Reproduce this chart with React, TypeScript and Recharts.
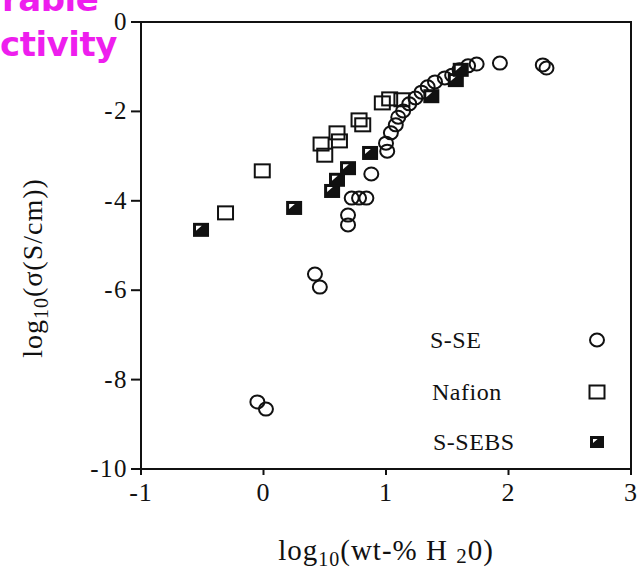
import React from 'react';
import { ScatterChart, Scatter, XAxis, YAxis, ReferenceArea, Legend } from 'recharts';

// log10(wt-% H2O) vs log10(conductivity)
const sseX = [-0.05, 0.02, 0.42, 0.46, 0.69, 0.69, 0.72, 0.78, 0.84, 0.88, 1.0, 1.01, 1.04, 1.08, 1.1, 1.14, 1.19, 1.24, 1.29, 1.34, 1.4, 1.48, 1.54, 1.6, 1.67, 1.74, 1.93, 2.28, 2.31];
const sseY = [-8.5, -8.66, -5.64, -5.93, -4.32, -4.54, -3.94, -3.94, -3.94, -3.4, -2.71, -2.89, -2.48, -2.3, -2.13, -1.99, -1.83, -1.7, -1.57, -1.45, -1.34, -1.25, -1.19, -1.07, -0.98, -0.94, -0.92, -0.96, -1.03];

const nafionX = [-0.31, -0.01, 0.47, 0.5, 0.6, 0.62, 0.78, 0.81, 0.97, 1.03, 1.13];
const nafionY = [-4.27, -3.33, -2.73, -2.98, -2.48, -2.66, -2.19, -2.3, -1.81, -1.72, -1.74];

const sebsX = [-0.51, 0.25, 0.56, 0.6, 0.69, 0.87, 1.37, 1.57, 1.61];
const sebsY = [-4.65, -4.16, -3.78, -3.53, -3.27, -2.93, -1.66, -1.3, -1.07];

const xTicks = [-1, 0, 1, 2, 3];
const yTicks = [0, -2, -4, -6, -8, -10];

const toPoints = (xs: number[], ys: number[]) => xs.map((x, i) => ({ x, y: ys[i] }));

const sseData = toPoints(sseX, sseY);
const nafionData = toPoints(nafionX, nafionY);
const sebsData = toPoints(sebsX, sebsY);

const serif = '"Liberation Serif", "Times New Roman", serif';
const ink = '#111';

const CircleMark = ({ cx, cy, r = 7 }: any) => (
  <ellipse cx={cx} cy={cy} rx={r} ry={r - 0.5} fill="none" stroke={ink} strokeWidth={2} />
);

const SquareMark = ({ cx, cy, s = 15 }: any) => (
  <rect x={cx - s / 2} y={cy - (s - 2) / 2} width={s} height={s - 2} fill="none" stroke={ink} strokeWidth={2} />
);

const HalfSquareMark = ({ cx, cy, s = 14 }: any) => {
  const x = cx - s / 2;
  const y = cy - (s - 2) / 2;
  return (
    <g>
      <rect x={x} y={y} width={s} height={s - 2} fill={ink} stroke={ink} strokeWidth={2} />
      <path d={`M${x + 2},${y + 2} L${x + s * 0.55},${y + 2} L${x + 2},${y + s * 0.5} Z`} fill="#fff" />
    </g>
  );
};

const XTick = ({ x, y, payload }: any) => (
  <text x={x} y={y + 22} textAnchor="middle" fontFamily={serif} fontSize={26} letterSpacing={1} fill={ink}>
    {payload.value}
  </text>
);

const YTick = ({ x, y, payload }: any) => (
  <text x={x} y={y + 8} textAnchor="end" fontFamily={serif} fontSize={25} letterSpacing={1.5} fill={ink}>
    {payload.value}
  </text>
);

const XLabel = ({ viewBox }: any) => {
  const cx = viewBox.x + viewBox.width / 2;
  return (
    <text x={cx} y={viewBox.y + 91} textAnchor="middle" fontFamily={serif} fontSize={29} letterSpacing={1} fill={ink}>
      log<tspan fontSize={20} dy={6}>10</tspan>
      <tspan dy={-6}>(wt-% H </tspan>
      <tspan fontSize={21} dy={3}>2</tspan>
      <tspan dy={-3}>0)</tspan>
    </text>
  );
};

const YLabel = () => (
  <text
    transform="translate(42, 268) rotate(-90)"
    textAnchor="middle"
    fontFamily={serif}
    fontSize={28}
    letterSpacing={1}
    fill={ink}
  >
    log<tspan fontSize={20} dy={6}>10</tspan>
    <tspan dy={-6}>(σ(S/cm))</tspan>
  </text>
);

const legendRows = [
  { name: 'S-SE', left: 30, top: 6, Mark: CircleMark, markProps: { r: 7 } },
  { name: 'Nafion', left: 32, top: 58, Mark: SquareMark, markProps: { s: 15 } },
  { name: 'S-SEBS', left: 33, top: 108, Mark: HalfSquareMark, markProps: { s: 12 } },
];

const LegendBox = () => (
  <div style={{ position: 'relative', width: 230, height: 150, fontFamily: serif, fontSize: 24, color: ink }}>
    {legendRows.map(({ name, left, top, Mark, markProps }) => (
      <React.Fragment key={name}>
        <span style={{ position: 'absolute', left, top, lineHeight: '28px', letterSpacing: 0.5 }}>{name}</span>
        <svg style={{ position: 'absolute', left: 186, top: top + 3 }} width={22} height={22}>
          <Mark cx={11} cy={11} {...markProps} />
        </svg>
      </React.Fragment>
    ))}
  </div>
);

const magenta = {
  position: 'absolute' as const,
  fontFamily: '"DejaVu Sans", sans-serif',
  fontWeight: 900,
  fontSize: 34,
  lineHeight: '40px',
  color: '#ee1eee',
  letterSpacing: -0.5,
};

export default function App() {
  return (
    <div style={{ position: 'absolute', left: 0, top: 0, width: 639, height: 570, background: '#fff', overflow: 'hidden' }}>
      <div style={{ ...magenta, left: 2, top: -21 }}>rable</div>
      <div style={{ ...magenta, left: 0, top: 24 }}>ctivity</div>
      <ScatterChart width={639} height={570} margin={{ top: 22, right: 8, bottom: 0, left: 0 }}>
        <XAxis
          type="number"
          dataKey="x"
          domain={[-1, 3]}
          ticks={xTicks}
          allowDataOverflow
          height={101}
          axisLine={{ stroke: ink, strokeWidth: 2 }}
          tickLine={{ stroke: ink, strokeWidth: 2 }}
          tickSize={6}
          tickMargin={4}
          tick={<XTick />}
          label={<XLabel />}
        />
        <YAxis
          type="number"
          dataKey="y"
          domain={[-10, 0]}
          ticks={yTicks}
          allowDataOverflow
          width={141}
          axisLine={{ stroke: ink, strokeWidth: 2 }}
          tickLine={{ stroke: ink, strokeWidth: 2 }}
          tickSize={10}
          tickMargin={3}
          tick={<YTick />}
          label={<YLabel />}
        />
        <ReferenceArea x1={-1} x2={3} y1={-10} y2={0} fill="none" stroke={ink} strokeWidth={2} ifOverflow="visible" />
        <Scatter name="S-SE" data={sseData} shape={(p: any) => <CircleMark cx={p.cx} cy={p.cy} />} isAnimationActive={false} />
        <Scatter name="Nafion" data={nafionData} shape={(p: any) => <SquareMark cx={p.cx} cy={p.cy} />} isAnimationActive={false} />
        <Scatter name="S-SEBS" data={sebsData} shape={(p: any) => <HalfSquareMark cx={p.cx} cy={p.cy} />} isAnimationActive={false} />
        <Legend
          layout="vertical"
          align="center"
          verticalAlign="middle"
          content={<LegendBox />}
          wrapperStyle={{ left: 400, top: 320, width: 230 }}
        />
      </ScatterChart>
    </div>
  );
}
